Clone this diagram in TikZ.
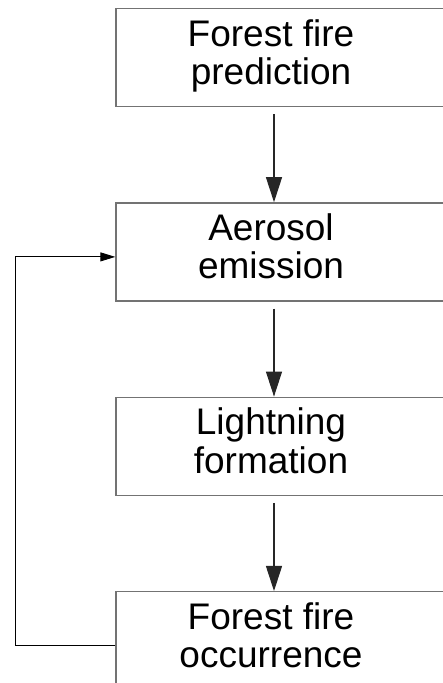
\documentclass[tikz,border=0pt]{standalone}
\usepackage{fontspec}
\setmainfont{Liberation Sans}
\usetikzlibrary{positioning,arrows.meta}
\newcommand{\stagetext}[1]{\begin{tabular}{@{}c@{}}#1\end{tabular}\hspace*{20pt}}

\begin{document}
\begin{tikzpicture}[x=1pt,y=1pt,
  stage/.style={draw=black!55, line width=1.4pt, minimum width=330pt,
    minimum height=98pt, inner sep=0pt, font=\fontsize{37}{38}\selectfont},
  flow/.style={-{Triangle[length=25pt,width=16pt]}, line width=1.1pt,
    black!85, shorten <=7pt},
  back/.style={-{Triangle[length=15pt,width=9pt]}, line width=1pt}]
  \useasboundingbox (0,0) rectangle (443,683);
  \clip (0,0) rectangle (443,683);

  % Bloques (el borde derecho queda fuera del recorte)
  \node[stage] (pred) at (281,625.5) {\stagetext{Forest fire\\prediction}};
  \node[stage, below=95pt of pred] (aer) {\stagetext{Aerosol\\emission}};
  \node[stage, below=95pt of aer] (light) {\stagetext{Lightning\\formation}};
  \node[stage, below=95pt of light] (occ) {\stagetext{Forest fire\\occurrence}};

  % Flechas hacia abajo
  \draw[flow] ([xshift=-7pt]pred.south) -- ([xshift=-7pt]aer.north);
  \draw[flow] ([xshift=-7pt]aer.south) -- ([xshift=-7pt]light.north);
  \draw[flow] ([xshift=-7pt]light.south) -- ([xshift=-7pt]occ.north);

  % Retroalimentacion
  \draw[back] ([yshift=-5pt]occ.west) -- ++(-100,0) |- ([yshift=-5pt]aer.west);
\end{tikzpicture}
\end{document}
